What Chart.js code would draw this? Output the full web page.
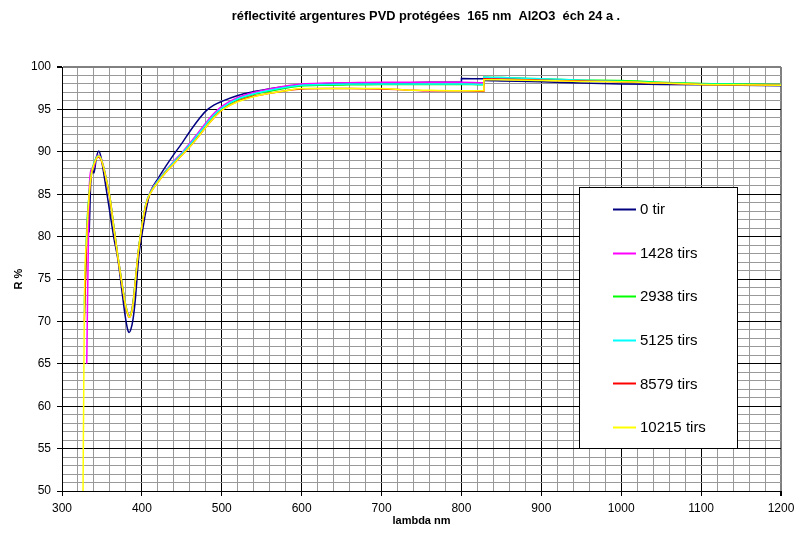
<!DOCTYPE html>
<html>
<head>
<meta charset="utf-8">
<script src="https://cdn.jsdelivr.net/npm/chart.js@4.4.1/dist/chart.umd.min.js"></script>
<style>
html,body{margin:0;padding:0;background:#fff;}
#wrap{width:795px;height:536px;position:relative;}
</style>
</head>
<body>
<div id="wrap"><canvas id="c" width="795" height="536"></canvas></div>
<script>
// ---- data ----
const chartTitle = 'réflectivité argentures PVD protégées  165 nm  Al2O3  éch 24 a .';
const xTitle = 'lambda nm';
const yTitle = 'R %';
const seriesLabels = ['0 tir', '1428 tirs', '2938 tirs', '5125 tirs', '8579 tirs', '10215 tirs'];
const seriesColors = ['#000080', '#FF00FF', '#00FF00', '#00FFFF', '#FF0000', '#FFFF00'];

const lambda = [326, 328, 331, 334, 337, 340, 343, 346, 349, 352, 356, 360, 365, 370, 375, 379, 382, 384, 386, 389,
  392, 396, 400, 405, 410, 420, 430, 440, 450, 460, 470, 480, 490, 500, 520, 540, 560, 580, 600, 630,
  660, 700, 730, 760, 800, 800, 828, 828, 850, 900, 950, 1000, 1050, 1100, 1150, 1200];

const tir0 = [null, null, null, 80.5, 88.0, 87.5, 89.3, 90.1, 89.3, 87.6, 85.2, 82.8, 79.8, 77.3, 73.6, 70.7, 69.1, 68.7, 69.0, 70.3,
  72.8, 77.6, 80.2, 83.0, 85.1, 86.8, 88.3, 89.7, 91.0, 92.4, 93.7, 94.8, 95.5, 95.95, 96.65, 97.1, 97.45, 97.7, 97.85, 98.0,
  98.1, 98.15, 98.15, 98.2, 98.2, 98.65, 98.6, 98.4, 98.35, 98.25, 98.1, 98.0, 97.95, 97.9, 97.85, 97.8];
const tirs1428 = [null, null, 65.0, 85.5, 88.0, 88.2, 89.4, 89.6, 89.2, 88.3, 86.6, 84.7, 81.1, 77.7, 74.6, 72.3, 71.1, 70.7, 70.9, 72.3,
  75.0, 78.6, 81.3, 83.8, 85.2, 86.6, 87.8, 88.9, 89.9, 91.0, 92.2, 93.4, 94.5, 95.35, 96.4, 97.0, 97.4, 97.75, 98.0, 98.1,
  98.15, 98.2, 98.2, 98.2, 98.2, 98.2, 98.15, 98.75, 98.7, 98.55, 98.4, 98.3, 98.1, 98.0, 97.95, 97.9];
const tirs2938 = [null, 72.0, 81.0, 85.0, 87.5, 88.6, 89.3, 89.5, 89.1, 88.2, 86.5, 84.6, 81.0, 77.6, 74.5, 72.2, 71.0, 70.6, 70.8, 72.2,
  75.0, 78.6, 81.3, 83.8, 85.1, 86.5, 87.7, 88.7, 89.7, 90.75, 91.9, 93.1, 94.2, 95.05, 96.15, 96.75, 97.15, 97.5, 97.75, 97.85,
  97.9, 97.95, 97.95, 97.95, 97.95, 97.95, 97.9, 98.8, 98.75, 98.6, 98.45, 98.4, 98.2, 98.05, 98.0, 97.95];
const tirs5125 = [null, 71.0, 80.5, 85.0, 87.6, 88.7, 89.3, 89.5, 89.1, 88.2, 86.5, 84.6, 81.0, 77.6, 74.5, 72.2, 71.0, 70.6, 70.8, 72.2,
  75.0, 78.6, 81.3, 83.8, 85.1, 86.55, 87.75, 88.8, 89.8, 90.85, 92.0, 93.2, 94.3, 95.15, 96.25, 96.85, 97.25, 97.6, 97.85, 97.95,
  98.0, 98.0, 98.0, 98.0, 98.0, 98.0, 97.95, 98.8, 98.75, 98.6, 98.45, 98.3, 98.15, 98.0, 97.95, 97.9];
const tirs8579 = [null, 70.0, 80.0, 84.8, 87.4, 88.5, 89.2, 89.4, 89.0, 88.1, 86.4, 84.5, 80.9, 77.5, 74.4, 72.1, 70.9, 70.5, 70.7, 72.1,
  74.9, 78.5, 81.2, 83.7, 85.0, 86.4, 87.6, 88.6, 89.6, 90.6, 91.7, 92.9, 94.0, 94.9, 95.95, 96.55, 96.9, 97.2, 97.4, 97.45,
  97.45, 97.4, 97.3, 97.2, 97.2, 97.2, 97.15, 98.6, 98.55, 98.45, 98.35, 98.25, 98.1, 97.95, 97.9, 97.85];
const tirs10215 = [45.0, 72.0, 80.0, 85.0, 87.5, 88.5, 89.2, 89.5, 89.1, 88.2, 86.5, 84.6, 81.0, 77.6, 74.5, 72.2, 71.0, 70.5, 70.7, 72.1,
  75.0, 78.6, 81.3, 83.8, 85.0, 86.4, 87.6, 88.6, 89.6, 90.6, 91.7, 92.9, 94.0, 94.9, 95.9, 96.5, 96.9, 97.2, 97.45, 97.45,
  97.45, 97.45, 97.3, 97.25, 97.2, 97.2, 97.2, 98.5, 98.5, 98.4, 98.3, 98.25, 98.1, 97.95, 97.9, 97.85];

const seriesValues = [tir0, tirs1428, tirs2938, tirs5125, tirs8579, tirs10215];

const xMin = 300, xMax = 1200, xMinor = 20, xMajor = 100;
const yMin = 50, yMax = 100, yMinor = 1, yMajor = 5;

// ---- chart ----
const FONT = '"Liberation Sans", Arial, sans-serif';

const datasets = seriesLabels.map((label, i) => ({
  label: label,
  data: lambda.map((x, j) => ({ x: x, y: seriesValues[i][j] })),
  borderColor: seriesColors[i],
  backgroundColor: seriesColors[i],
  borderWidth: 1.5,
  pointRadius: 0,
  cubicInterpolationMode: 'monotone',
  fill: false,
  spanGaps: false,
  order: seriesLabels.length - 1 - i
}));

const decorPlugin = {
  id: 'decor',
  afterDraw(chart) {
    const ctx = chart.ctx;
    ctx.save();
    // title
    ctx.fillStyle = '#000';
    ctx.font = 'bold 12.8px ' + FONT;
    ctx.textAlign = 'center';
    ctx.textBaseline = 'middle';
    ctx.fillText(chartTitle, 426, 16);
    // legend box
    const bx = 579.5, by = 187.5, bw = 158, bh = 261;
    ctx.fillStyle = '#fff';
    ctx.fillRect(bx, by, bw, bh);
    ctx.strokeStyle = '#000';
    ctx.lineWidth = 1;
    ctx.strokeRect(bx, by, bw, bh);
    ctx.font = '15px ' + FONT;
    ctx.textAlign = 'left';
    ctx.textBaseline = 'middle';
    chart.data.datasets.forEach((ds, i) => {
      const y = 209 + i * 43.6;
      ctx.strokeStyle = ds.borderColor;
      ctx.lineWidth = 2;
      ctx.beginPath();
      ctx.moveTo(613, Math.round(y) + 0.5);
      ctx.lineTo(636, Math.round(y) + 0.5);
      ctx.stroke();
      ctx.fillStyle = '#000';
      ctx.fillText(ds.label, 640, y + 1);
    });
    ctx.restore();
  }
};

const bgPlugin = {
  id: 'bg',
  beforeDraw(chart) {
    const ctx = chart.ctx;
    ctx.save();
    ctx.fillStyle = '#fff';
    ctx.fillRect(0, 0, chart.width, chart.height);
    ctx.restore();
  }
};

new Chart(document.getElementById('c'), {
  type: 'line',
  data: { datasets: datasets },
  options: {
    responsive: false,
    animation: false,
    devicePixelRatio: 1,
    layout: { padding: { left: 0, right: 14, top: 67, bottom: 0 } },
    plugins: {
      legend: { display: false },
      title: { display: false },
      tooltip: { enabled: false }
    },
    scales: {
      x: {
        type: 'linear',
        min: xMin, max: xMax,
        afterFit(scale) { scale.height = 45; scale.paddingLeft = 0; scale.paddingRight = 0; },
        ticks: {
          stepSize: xMinor,
          autoSkip: false,
          maxRotation: 0,
          padding: 5,
          color: '#000',
          font: { family: FONT, size: 12 },
          callback: (v) => (v % xMajor === 0 ? String(v) : '')
        },
        grid: {
          color: (c) => {
            const v = c.tick ? c.tick.value : 0;
            if (v === xMax) return '#808080';
            return v % xMajor === 0 ? '#000' : '#999';
          },
          lineWidth: (c) => (c.tick && c.tick.value === xMax ? 2 : 1),
          tickColor: (c) => (c.tick && c.tick.value % xMajor === 0 ? '#000' : 'rgba(0,0,0,0)'),
          tickLength: 5,
          drawTicks: true
        },
        border: { display: true, color: '#000', width: 1 },
        title: {
          display: true,
          text: xTitle,
          color: '#000',
          font: { family: FONT, size: 11, weight: 'bold' },
          padding: { top: 0, bottom: 8 }
        }
      },
      y: {
        type: 'linear',
        min: yMin, max: yMax,
        afterFit(scale) { scale.width = 62; scale.paddingTop = 0; scale.paddingBottom = 0; },
        ticks: {
          stepSize: yMinor,
          autoSkip: false,
          padding: 6,
          color: '#000',
          font: { family: FONT, size: 12 },
          callback: (v) => (v % yMajor === 0 ? String(v) : '')
        },
        grid: {
          color: (c) => {
            const v = c.tick ? c.tick.value : 0;
            if (v === yMax) return '#808080';
            return v % yMajor === 0 ? '#000' : '#999';
          },
          lineWidth: (c) => (c.tick && c.tick.value === yMax ? 2 : 1),
          tickColor: (c) => (c.tick && c.tick.value % yMajor === 0 ? '#000' : 'rgba(0,0,0,0)'),
          tickLength: 5,
          drawTicks: true
        },
        border: { display: true, color: '#000', width: 1 },
        title: {
          display: true,
          text: yTitle,
          color: '#000',
          font: { family: FONT, size: 11, weight: 'bold' },
          padding: { top: 12, bottom: 0 }
        }
      }
    }
  },
  plugins: [bgPlugin, decorPlugin]
});
</script>
</body>
</html>
